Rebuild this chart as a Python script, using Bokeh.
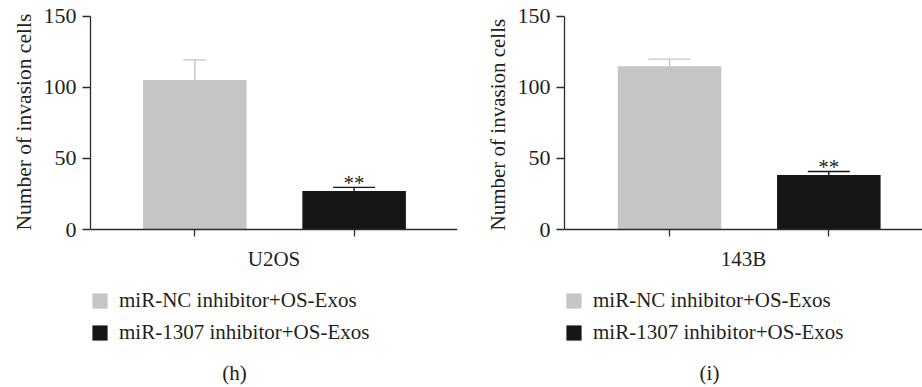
from bokeh.plotting import figure
from bokeh.layouts import row
from bokeh.models import (Range1d, FixedTicker, Legend, LegendItem, Label, Title,
                          ColumnDataSource)
from bokeh.core.properties import value
from bokeh.embed import file_html
from bokeh.resources import INLINE

# ---- data ----
groups = ["miR-NC inhibitor+OS-Exos", "miR-1307 inhibitor+OS-Exos"]
bar_colors = ["#c4c5c4", "#161616"]

cell_lines = ["U2OS", "143B"]
panel_tags = ["(h)", "(i)"]
y_title = "Number of invasion cells"
means_u2os = [105.2, 27.0]
errs_u2os = [14.1, 2.6]
means_143b = [114.8, 38.4]
errs_143b = [5.0, 2.4]
signif_u2os = ["", "**"]
signif_143b = ["", "**"]
y_ticks = [0, 50, 100, 150]

FONT = "Liberation Serif"
TXT = "#231f20"
AX = "#2b2b2b"
H = 387
PX_PER_UNIT = 213.33 / 150.0       # vertical scale
ZERO_Y = 229                       # pixel row of y = 0


def make_panel(cell, tag, means, errs, signif, width, border_left, border_right,
               x_start, x_end, cap_half, legend_x, tag_x, ylab_size, ylab_offset,
               ylab_standoff):
    xs = [i + 1 for i in range(len(means))]
    tops = [m + e for m, e in zip(means, errs)]
    src = ColumnDataSource(dict(x=xs, m=means, top=tops, color=bar_colors,
                                x0=[x - c for x, c in zip(xs, cap_half)],
                                x1=[x + c for x, c in zip(xs, cap_half)],
                                sig=signif))
    y_lo = -(H - ZERO_Y) / PX_PER_UNIT
    y_hi = ZERO_Y / PX_PER_UNIT
    p = figure(width=width, height=H, output_backend="svg", toolbar_location=None,
               x_range=Range1d(x_start, x_end), y_range=Range1d(y_lo, y_hi),
               min_border_left=border_left, min_border_right=border_right,
               min_border_top=0, min_border_bottom=0)
    p.outline_line_color = None
    p.xgrid.visible = False
    p.ygrid.visible = False
    p.background_fill_color = "white"
    p.border_fill_color = "white"

    # error bars
    p.segment(x0="x", y0="m", x1="x", y1="top", source=src, line_color="color", line_width=1.4)
    p.segment(x0="x0", y0="top", x1="x1", y1="top", source=src, line_color="color", line_width=1.4)
    bars = p.vbar(x="x", top="m", bottom=0, width=0.65, source=src,
                  fill_color="color", line_color=None)
    p.text(x="x", y="top", text="sig", source=src, text_align="center",
           text_baseline="alphabetic", y_offset=-4, text_font=value(FONT),
           text_font_size="21px", text_color=TXT)

    # y axis
    ya = p.yaxis[0]
    ya.ticker = FixedTicker(ticks=y_ticks)
    ya.bounds = (0, 150)
    ya.major_label_text_font = FONT
    ya.major_label_text_font_size = "22px"
    ya.major_label_text_color = TXT
    ya.major_label_standoff = 6
    ya.major_tick_in = 0
    ya.major_tick_out = 8
    ya.minor_tick_line_color = None
    ya.axis_line_color = AX
    ya.axis_line_width = 1.3
    ya.major_tick_line_color = AX
    ya.major_tick_line_width = 1.3

    p.add_layout(Title(text=y_title, align="left", offset=ylab_offset,
                       standoff=ylab_standoff, text_font=FONT,
                       text_font_style="normal", text_font_size=ylab_size,
                       text_color=TXT), "left")

    # x axis, pinned at y = 0
    xa = p.xaxis[0]
    xa.fixed_location = 0
    xa.ticker = FixedTicker(ticks=[], minor_ticks=xs)
    xa.major_label_standoff = 0
    xa.axis_label = cell
    xa.axis_label_text_font = FONT
    xa.axis_label_text_font_style = "normal"
    xa.axis_label_text_font_size = "21px"
    xa.axis_label_text_color = TXT
    xa.axis_label_standoff = 10
    xa.major_tick_in = 0
    xa.major_tick_out = 7
    xa.minor_tick_in = 0
    xa.minor_tick_out = 7
    xa.axis_line_color = AX
    xa.axis_line_width = 1.3
    xa.minor_tick_line_color = AX
    xa.minor_tick_line_width = 1.3

    legend = Legend(items=[LegendItem(label=g, renderers=[bars], index=i)
                           for i, g in enumerate(groups)],
                    location=(legend_x, 42), orientation="vertical",
                    glyph_width=19, glyph_height=19, label_height=19,
                    spacing=7, label_standoff=10, padding=0, margin=0,
                    border_line_color=None, background_fill_alpha=0,
                    label_text_font=FONT, label_text_font_size="21px",
                    label_text_color=TXT)
    p.add_layout(legend)

    p.add_layout(Label(x=tag_x, y=15, x_units="screen", y_units="screen", text=tag,
                       text_align="center", text_baseline="alphabetic",
                       text_font=FONT, text_font_size="21px", text_color=TXT))
    return p


left = make_panel(cell_lines[0], panel_tags[0], means_u2os, errs_u2os, signif_u2os,
                  width=460, border_left=90, border_right=3,
                  x_start=0.345, x_end=2.649, cap_half=[0.073, 0.132],
                  legend_x=0, tag_x=144, ylab_size="21.5px", ylab_offset=157,
                  ylab_standoff=10)
right = make_panel(cell_lines[1], panel_tags[1], means_143b, errs_143b, signif_143b,
                   width=462, border_left=104, border_right=0,
                   x_start=0.341, x_end=2.588, cap_half=[0.132, 0.132],
                   legend_x=0, tag_x=145, ylab_size="21px", ylab_offset=157,
                   ylab_standoff=10)

layout = row(left, right)
open("out.html", "w").write(file_html(layout, INLINE))
